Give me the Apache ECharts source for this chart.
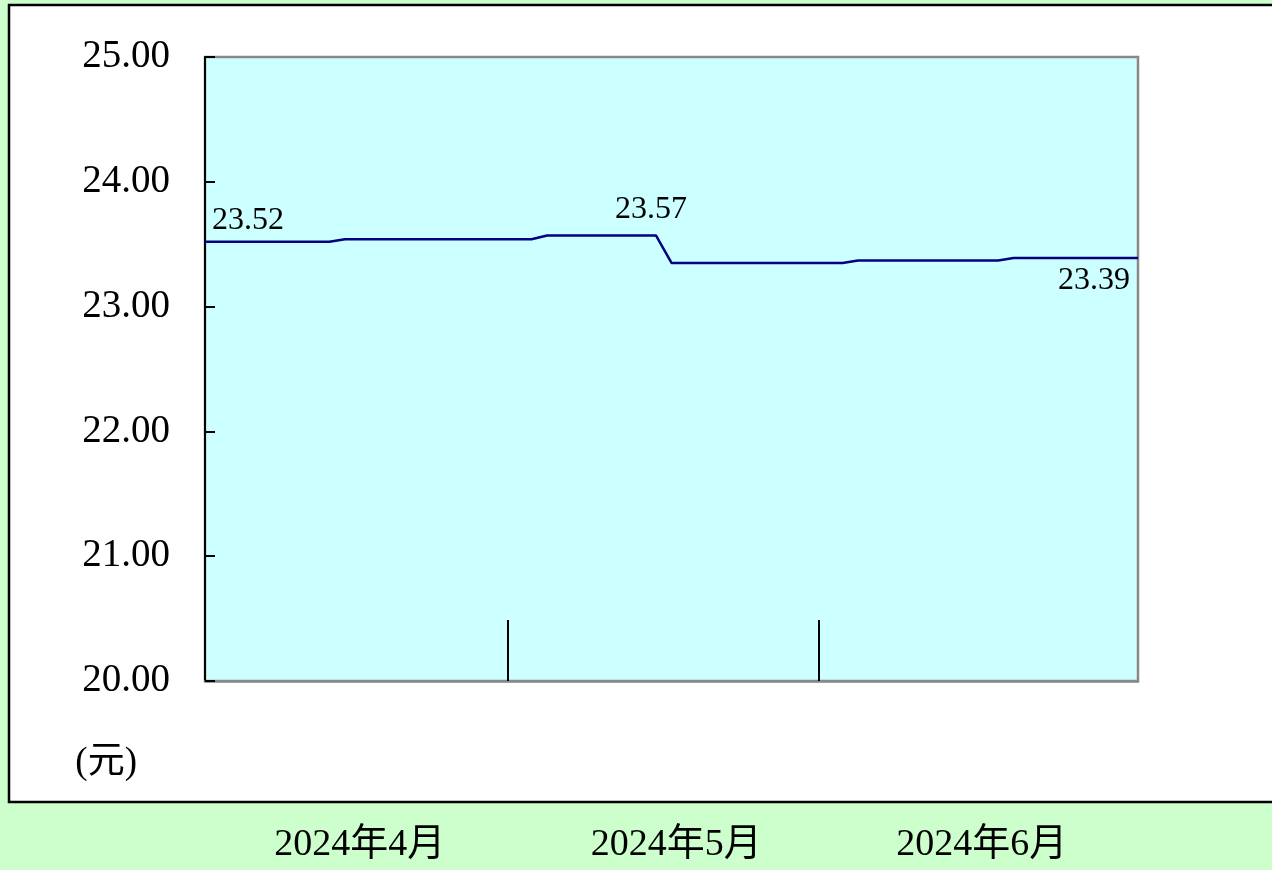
<!DOCTYPE html>
<html>
<head>
<meta charset="utf-8">
<script src="https://cdn.jsdelivr.net/npm/echarts@6/dist/echarts.min.js"></script>
<style>
html,body{margin:0;padding:0;background:#ccffcc;}
#chart{width:1272px;height:870px;}
</style>
</head>
<body>
<div id="chart"></div>
<script>
// ---- data ----
const months = ['2024年4月', '2024年5月', '2024年6月'];
const monthDays = [20, 20, 21];           // trading days per month
const navValues = [
  23.52, 23.52, 23.52, 23.52, 23.52, 23.52, 23.52, 23.52, 23.52,
  23.54, 23.54, 23.54, 23.54, 23.54, 23.54, 23.54, 23.54, 23.54, 23.54, 23.54, 23.54, 23.54,
  23.57, 23.57, 23.57, 23.57, 23.57, 23.57, 23.57, 23.57,
  23.35, 23.35, 23.35, 23.35, 23.35, 23.35, 23.35, 23.35, 23.35, 23.35, 23.35, 23.35,
  23.37, 23.37, 23.37, 23.37, 23.37, 23.37, 23.37, 23.37, 23.37, 23.37,
  23.39, 23.39, 23.39, 23.39, 23.39, 23.39, 23.39, 23.39, 23.39
];
const yMin = 20, yMax = 25, yStep = 1;
const unitLabel = '(元)';
const labeledPoints = [0, 29, 60];

// ---- derived ----
const boundaries = [];
const centers = [];
let acc = 0;
monthDays.forEach((n, k) => {
  const start = k === 0 ? 0 : acc - 0.5;
  acc += n;
  const end = k === monthDays.length - 1 ? acc - 1 : acc - 0.5;
  centers.push((start + end) / 2 + (k === 1 ? 0.8 : 0.2));
  if (k < monthDays.length - 1) boundaries.push(acc - 0.5);
});

const serif = '"Liberation Serif", "Times New Roman", "Noto Sans CJK TC", serif';

const labelStyles = {
  0:  { position: 'top', align: 'left', offset: [7, 0], distance: 5 },
  29: { position: 'top', align: 'center', offset: [-5, 0], distance: 9 },
  60: { position: 'bottom', align: 'right', offset: [-8, 0], distance: 6 }
};

const seriesData = navValues.map((v, i) => {
  const item = { value: [i, v] };
  if (labeledPoints.includes(i)) {
    item.label = Object.assign({
      show: true,
      formatter: (p) => p.value[1].toFixed(2),
      color: '#000',
      fontFamily: serif,
      fontSize: 32
    }, labelStyles[i]);
  }
  return item;
});

const chart = echarts.init(document.getElementById('chart'), null, { renderer: 'canvas' });
chart.setOption({
  animation: false,
  backgroundColor: '#ccffcc',
  graphic: [{
    type: 'rect',
    z: -10,
    shape: { x: 9, y: 5, width: 1290, height: 797 },
    style: { fill: '#ffffff', stroke: '#000000', lineWidth: 2.5 }
  }],
  grid: {
    left: 205, right: 134, top: 57, bottom: 189,
    show: true,
    backgroundColor: '#ccffff',
    borderColor: '#888888',
    borderWidth: 2.5
  },
  xAxis: {
    type: 'value',
    min: 0,
    max: navValues.length - 1,
    axisLine: { show: true, lineStyle: { color: '#888888', width: 2.5 } },
    axisTick: {
      show: true, inside: true, length: 61,
      customValues: boundaries,
      lineStyle: { color: '#000000', width: 2 }
    },
    axisLabel: {
      show: true,
      customValues: centers,
      margin: 145,
      formatter: (v) => {
        const k = centers.findIndex(c => Math.abs(c - v) < 1e-6);
        return k >= 0 ? months[k] : '';
      },
      color: '#000',
      fontFamily: serif,
      fontSize: 38
    },
    splitLine: { show: false }
  },
  yAxis: {
    type: 'value',
    min: yMin, max: yMax, interval: yStep,
    name: unitLabel,
    nameLocation: 'start',
    nameGap: 64,
    nameTextStyle: {
      color: '#000', fontFamily: serif, fontSize: 37,
      align: 'right', verticalAlign: 'top', padding: [0, 68, 0, 0]
    },
    axisLine: { show: true, lineStyle: { color: '#000000', width: 2 } },
    axisTick: { show: true, inside: true, length: 10, lineStyle: { color: '#000', width: 2 } },
    axisLabel: {
      formatter: (v) => v.toFixed(2),
      color: '#000',
      fontFamily: serif,
      fontSize: 39,
      margin: 35
    },
    splitLine: { show: false }
  },
  series: [{
    type: 'line',
    data: seriesData,
    symbol: 'circle',
    symbolSize: 1,
    showSymbol: true,
    itemStyle: { color: 'rgba(0,0,128,0)' },
    lineStyle: { color: '#000080', width: 2.5 },
    label: { show: false },
    emphasis: { disabled: true }
  }]
});
</script>
</body>
</html>
